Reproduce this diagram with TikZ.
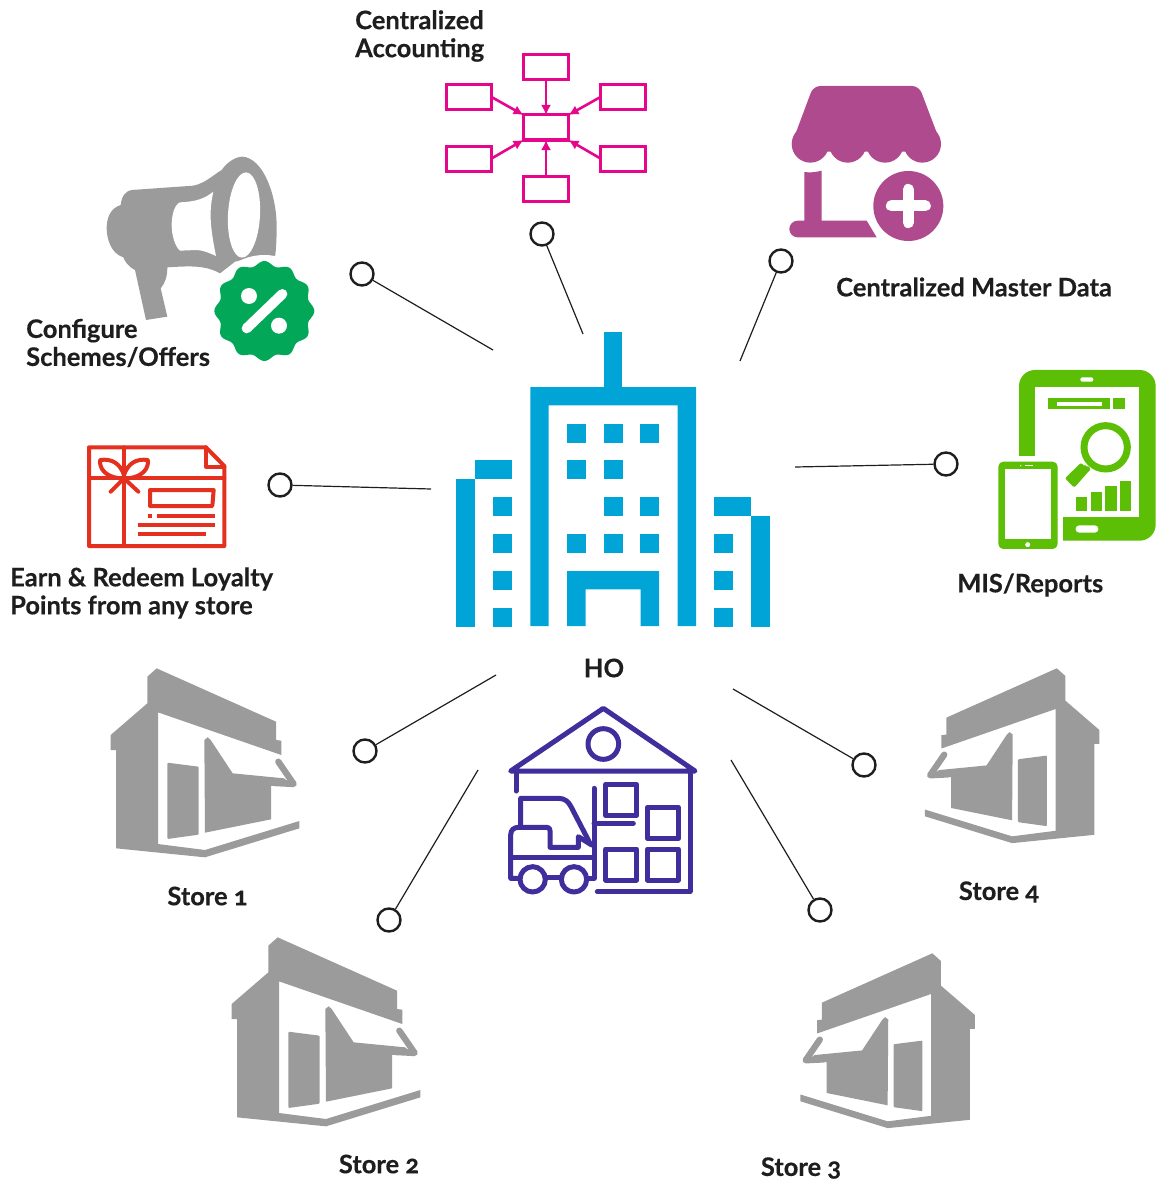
\documentclass[tikz,border=0pt]{standalone}
\usepackage{fontspec}
\setmainfont{Lato}[BoldFeatures={FakeBold=0.35}]
\usetikzlibrary{arrows.meta}

\definecolor{hoblue}{HTML}{00A4D6}
\definecolor{storegray}{HTML}{9B9B9B}
\definecolor{acctpink}{HTML}{E5068C}
\definecolor{shopplum}{HTML}{AE4A8D}
\definecolor{misgreen}{HTML}{5CBE05}
\definecolor{offergreen}{HTML}{02A858}
\definecolor{giftred}{HTML}{E3301F}
\definecolor{wareviolet}{HTML}{3F2E9B}
\definecolor{labelink}{HTML}{1E1E1E}

\tikzset{
    storeshop/.pic={
        % shell of the shop, with its open front
        \fill[storegray] (172,50) -- (200,25) -- (558,185) -- (558,240) -- (574,242) -- (574,285)
            -- (204,157) -- (204,552) -- (345,570) -- (628,483) -- (628,505) -- (345,592)
            -- (78,565) -- (78,270) -- (62,270) -- (62,225) -- (172,130) -- cycle;
        \fill[storegray,rounded corners=1pt] (232,308) -- (326,320) -- (326,524) -- (232,537) -- cycle;
        % window and awning
        \fill[storegray] (343,240) -- (353,232) -- (362,240) -- (428,340) -- (582,355)
            -- (604,372) -- (543,378) -- (543,478) -- (345,518) -- cycle;
        \draw[storegray,line width=6.3pt,line cap=round,line join=round] (565,305) -- (611,372) -- (552,369);
    }
}

\begin{document}
\begin{tikzpicture}[x=1pt,y=-1pt,
        lbl/.style={font=\fontsize{25.5}{28}\selectfont\bfseries,text=labelink,align=left,inner sep=0pt},
        hub/.style={circle,draw=labelink,line width=2.4pt,fill=white,minimum size=23pt,inner sep=0pt},
        spoke/.style={draw=labelink,line width=1.2pt},
        acctbox/.style={rectangle,draw=acctpink,line width=3pt,minimum width=45pt,minimum height=25pt,inner sep=0pt,outer sep=0pt},
        acctarrow/.style={acctpink,line width=2.6pt,-{Latex[length=10pt,width=10pt]}},
        giftline/.style={giftred,line width=4pt,line join=round,line cap=round},
        wareline/.style={wareviolet,line width=5pt,line join=round,line cap=round}]
    \useasboundingbox (0,0) rectangle (1157,1180);

    % HO building
    \begin{scope}[shift={(440,320)},scale=1/3]
        \fill[hoblue] (492,36) rectangle (547,210);
        \fill[hoblue] (271,918) -- (271,201) -- (768,201) -- (768,918) -- (713,918) -- (713,256) -- (326,256) -- (326,918) -- cycle;
        \fill[hoblue] (381,918) -- (381,753) -- (657,753) -- (657,918) -- (602,918) -- (602,808) -- (437,808) -- (437,918) -- cycle;
        \foreach \wx/\wy in {381/312,492/312,600/312,381/420,492/420,492/531,600/531,381/642,492/642,600/642,
                159/531,159/642,159/753,159/864,822/642,822/753,822/864}
            \fill[hoblue] (\wx,\wy) rectangle ++(57,57);
        \fill[hoblue] (48,477) rectangle (105,920);
        \fill[hoblue] (105,420) rectangle (216,477);
        \fill[hoblue] (933,588) rectangle (990,920);
        \fill[hoblue] (822,531) rectangle (933,588);
    \end{scope}
    \node[lbl] (hoLabel) at (604,668) {HO};

    % Centralized accounting
    \node[acctbox] (acctMid) at (546,127.5) {};
    \node[acctbox] (acctTop) at (546,67) {};
    \node[acctbox] (acctBot) at (546,189) {};
    \node[acctbox] (acctLU) at (469,97) {};
    \node[acctbox] (acctLD) at (469,158.5) {};
    \node[acctbox] (acctRU) at (623,97) {};
    \node[acctbox] (acctRD) at (623,158.5) {};
    \draw[acctarrow] (acctTop) -- (acctMid);
    \draw[acctarrow] (acctBot) -- (acctMid);
    \draw[acctarrow] (acctLU.east) -- (acctMid.north west);
    \draw[acctarrow] (acctLD.east) -- (acctMid.south west);
    \draw[acctarrow] (acctRU.west) -- (acctMid.north east);
    \draw[acctarrow] (acctRD.west) -- (acctMid.south east);
    \node[lbl,anchor=west] (acctLabel) at (355,36) {Centralized\\Accounting};

    % Master data shop
    \begin{scope}[shift={(770,70)},scale=1/3]
        \fill[shopplum,rounded corners=7pt] (65,222) -- (130,48) -- (447,48) -- (513,222) -- (457,245) -- (121,245) -- cycle;
        \foreach \cx in {121,233,345,457}
            \fill[shopplum] (\cx,222) circle[radius=56];
        \fill[shopplum] (103,306) .. controls (120,309) and (140,306) .. (155,302) -- (155,452) -- (290,452) -- (320,502) -- (83,502)
            arc[start angle=90,end angle=270,radius=25] -- (103,452) -- cycle;
        \fill[shopplum] (415,408) circle[radius=105];
        \draw[white,line width=11pt,line cap=round] (364,408) -- (466,408);
        \draw[white,line width=11pt,line cap=round] (415,358) -- (415,458);
    \end{scope}
    \node[lbl,anchor=west] (masterLabel) at (836,287) {Centralized Master Data};

    % MIS tablet and phone
    \begin{scope}[shift={(770,70)},scale=1/3]
        \fill[misgreen,rounded corners=16pt] (747,900) rectangle (1157,1412);
        \fill[white] (795,950) rectangle (1106,1340);
        \fill[white] (740,1158) rectangle (880,1420);
        \fill[white,rounded corners=2pt] (931,922) rectangle (970,935);
        \fill[white,rounded corners=3.5pt] (917,1366) rectangle (985,1388);
        \fill[misgreen] (835,985) rectangle (1020,1017);
        \fill[white] (860,995) rectangle (995,1007);
        \fill[misgreen] (1029,985) rectangle (1065,1017);
        \draw[misgreen,line width=7pt] (1007,1132) circle[radius=65];
        \fill[misgreen,rounded corners=2pt] (885,1225) -- (933,1178) -- (945,1190) -- (952,1185) -- (963,1198) -- (955,1205) -- (913,1253) -- cycle;
        \foreach \bx/\by in {918/1280,962/1265,1006/1248,1049/1233}
            \fill[misgreen] (\bx,\by) rectangle (\bx+34,1322);
        \fill[misgreen,rounded corners=5pt] (685,1175) rectangle (863,1437);
        \fill[white] (706,1197) rectangle (842,1408);
        \fill[white] (752,1187) circle[radius=2];
        \fill[white] (765,1185) rectangle (788,1189);
        \fill[white] (773,1424) circle[radius=7.5];
    \end{scope}
    \node[lbl,anchor=west] (misLabel) at (957,585) {MIS/Reports};

    % Schemes megaphone and badge
    \begin{scope}[shift={(90,140)},scale=1/3]
        \fill[storegray] (125,150) -- (310,137) .. controls (345,130) and (370,105) .. (395,90)
            .. controls (415,62) and (440,50) .. (458,50) .. controls (520,55) and (560,165) .. (560,260)
            .. controls (560,300) and (558,330) .. (555,350) -- (500,350) -- (435,365) -- (390,400)
            .. controls (345,375) and (300,378) .. (232,382) .. controls (232,410) and (225,430) .. (212,445)
            -- (232,530) -- (168,540) -- (135,390) .. controls (115,380) and (105,365) .. (100,352)
            .. controls (60,340) and (50,290) .. (50,265) .. controls (50,235) and (60,205) .. (92,195)
            .. controls (95,165) and (110,152) .. (125,150) -- cycle;
        \fill[white,rotate around={-3:(462,225)}] (462,225) ellipse[x radius=48,y radius=128];
        \fill[white] (370,155) .. controls (345,175) and (320,185) .. (270,187)
            .. controls (250,195) and (245,235) .. (245,255) .. controls (245,285) and (255,320) .. (270,332)
            -- (320,330) .. controls (345,332) and (360,340) .. (378,348)
            .. controls (358,250) and (358,210) .. (370,155) -- cycle;
        \fill[white] (523,513) circle[radius=168];
        \fill[offergreen] plot[domain=0:360,samples=145,smooth] ({523+(143+7*cos(12*\x))*cos(\x)},{513+(143+7*cos(12*\x))*sin(\x)}) -- cycle;
        \draw[white,line width=10pt,line cap=round] (577,462) -- (470,565);
        \fill[white] (477,468) circle[radius=24];
        \fill[white] (567,557) circle[radius=24];
    \end{scope}
    \node[lbl,anchor=west] (schemeLabel) at (26,343) {Configure\\Schemes/Offers};

    % Loyalty gift card
    \begin{scope}[shift={(70,430)},scale=1/3]
        \draw[giftline] (57,52) -- (408,52) -- (463,108) -- (463,348) -- (57,348) -- cycle;
        \draw[giftline] (408,52) -- (408,110) -- (463,110);
        \draw[giftline] (57,145) -- (463,145);
        \draw[giftline] (162,52) -- (162,348);
        \draw[giftline] (150,145) .. controls (105,140) and (88,115) .. (90,90) .. controls (125,85) and (150,100) .. (162,135);
        \draw[giftline] (174,145) .. controls (219,140) and (236,115) .. (234,90) .. controls (199,85) and (174,100) .. (162,135);
        \draw[giftline] (162,145) -- (122,185);
        \draw[giftline] (162,145) -- (205,185);
        \draw[giftline,line cap=butt] (240,180) -- (431,180) -- (427,228) -- (240,228) -- cycle;
        \draw[giftred,line width=4pt] (233,257) -- (246,257);
        \draw[giftred,line width=4pt] (262,257) -- (435,257);
        \draw[giftred,line width=4pt] (205,285) -- (435,285);
        \draw[giftred,line width=4pt] (205,313) -- (407,313);
    \end{scope}
    \node[lbl,anchor=west] (loyaltyLabel) at (10,593) {Earn \& Redeem Loyalty\\Points from any store};

    % Warehouse with forklift
    \begin{scope}[shift={(490,695)},scale=1/3]
        \draw[wareline] (62,228) -- (340,40) -- (615,228) -- cycle;
        \draw[wareline] (340,147) circle[radius=46];
        \draw[wareline] (78,228) -- (78,288);
        \draw[wareline] (600,228) -- (600,590) -- (322,590);
        \foreach \bx/\by in {347/268,472/337,347/462,472/462}
            \draw[wareline] (\bx,\by) rectangle (\bx+93,\by+93);
        \draw[wareline] (312,280) -- (312,550) -- (290,550);
        \draw[wareline] (312,385) -- (430,385);
        \draw[wareline] (92,395) -- (92,310) -- (205,310) .. controls (225,310) and (235,320) .. (243,335) -- (300,445);
        \draw[wareline] (90,550) -- (62,550) -- (62,420) .. controls (62,405) and (72,397) .. (85,397)
            -- (170,397) .. controls (177,397) and (180,400) .. (180,407) -- (180,457) -- (265,457) -- (265,425) -- (305,450);
        \draw[wareline] (62,487) -- (312,487);
        \draw[wareline] (128,553) circle[radius=38];
        \draw[wareline] (252,553) circle[radius=38];
        \draw[wareline] (165,548) -- (215,548);
    \end{scope}

    % Stores
    \pic[scale=1/3] at (90,660) {storeshop};
    \pic[scale=1/3] at (211,929) {storeshop};
    \pic[xscale=-.3083,yscale=.3083] at (994,945.6) {storeshop};
    \pic[xscale=-.3083,yscale=.3083] at (1118.45,660.6) {storeshop};
    \node[lbl] (store1Label) at (207.5,896) {Store \addfontfeature{Numbers=OldStyle}1};
    \node[lbl] (store2Label) at (379,1164) {Store \addfontfeature{Numbers=OldStyle}2};
    \node[lbl] (store3Label) at (801,1168) {Store \addfontfeature{Numbers=OldStyle}3};
    \node[lbl] (store4Label) at (999,892) {Store \addfontfeature{Numbers=OldStyle}4};

    % Hubs and their spokes
    \node[hub] (hubScheme) at (362,274) {};
    \node[hub] (hubAcct) at (542,234) {};
    \node[hub] (hubMaster) at (781,261) {};
    \node[hub] (hubMis) at (946,464) {};
    \node[hub] (hubLoyalty) at (280,485) {};
    \node[hub] (hubStoreA) at (365,751) {};
    \node[hub] (hubStoreB) at (389,920) {};
    \node[hub] (hubStoreC) at (820,910) {};
    \node[hub] (hubStoreD) at (864,765) {};
    \coordinate (endScheme) at (493,350);
    \coordinate (endAcct) at (583,334);
    \coordinate (endMaster) at (740,361);
    \coordinate (endMis) at (795,467);
    \coordinate (endLoyalty) at (431,489);
    \coordinate (endStoreA) at (496,675);
    \coordinate (endStoreB) at (478,770);
    \coordinate (endStoreC) at (731,760);
    \coordinate (endStoreD) at (733,689);
    \foreach \hubname/\endname in {hubScheme/endScheme,hubAcct/endAcct,hubMaster/endMaster,hubMis/endMis,
            hubLoyalty/endLoyalty,hubStoreA/endStoreA,hubStoreB/endStoreB,hubStoreC/endStoreC,hubStoreD/endStoreD}
        \draw[spoke] (\hubname) -- (\endname);
\end{tikzpicture}
\end{document}
